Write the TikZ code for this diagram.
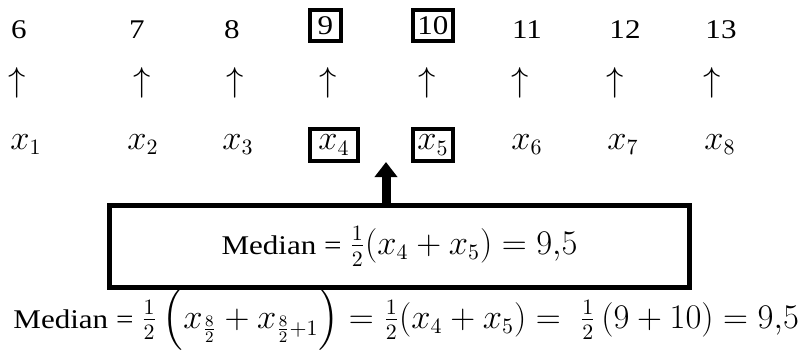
\documentclass[tikz,border=0pt]{standalone}
\usepackage{amsmath}
\usepackage{fontspec}
\setmainfont{Liberation Serif}[FakeStretch=1.15]
\DeclareMathSizes{13.5}{16.5}{10.5}{8.5}
\usepackage{tikz}
\usetikzlibrary{positioning, arrows.meta}

\begin{document}
\begin{tikzpicture}[x=0.5pt, y=-0.5pt, font=\fontsize{13.5}{16}\selectfont,
    val/.style={anchor=base, inner sep=0pt},
    hit/.style={draw, line width=2pt, inner sep=0pt, minimum height=15.5pt},
    up/.style={inner sep=0pt}]
    \useasboundingbox (0,0) rectangle (800,355);
    % Values
    \foreach \i/\cx/\v in {1/19/6, 2/137/7, 3/232/8, 6/527/11, 7/625/12, 8/721/13}{
      \node[val] (v\i) at (\cx,38) {\v};
    }
    \node[hit, minimum width=15.5pt] (v4) at (325.5,25.5) {9};
    \node[hit, minimum width=20pt] (v5) at (433,25.5) {10};
    % Arrows
    \foreach \i/\cx in {1/17, 2/142, 3/235, 4/328, 5/427, 6/520, 7/615, 8/712}{
      \node[up] (a\i) at (\cx,83) {$\uparrow$};
    }
    % Observations
    \foreach \i/\cx in {1/26, 2/143, 3/238, 6/527, 7/623, 8/720}{
      \node[val] (x\i) at (\cx,149) {$x_{\i}$};
    }
    \node[hit, minimum width=24pt, minimum height=16pt] (x4) at (334,145) {$x_4$};
    \node[hit, minimum width=20pt, minimum height=16pt] (x5) at (433,145) {$x_5$};
    % Median box
    \node[draw, line width=2.5pt, minimum width=290pt, minimum height=41pt] (med) at (399.5,246.5)
      {Median = $\frac{1}{2}(x_4+x_5) = 9{,}5$};
    \coordinate (tip) at (386,162);
    \draw[-{Triangle[width=11pt, length=7.5pt]}, line width=4.5pt] (med.north -| tip) -- (tip);
    % Formula
    \node[anchor=base west, inner sep=0pt] (calc) at (13,328)
      {Median = $\frac{1}{2}\left(x_{\frac{8}{2}}+x_{\frac{8}{2}+1}\right) = \frac{1}{2}(x_4+x_5) = \;\frac{1}{2}\,(9+10) = 9{,}5$};
  \end{tikzpicture}
\end{document}
